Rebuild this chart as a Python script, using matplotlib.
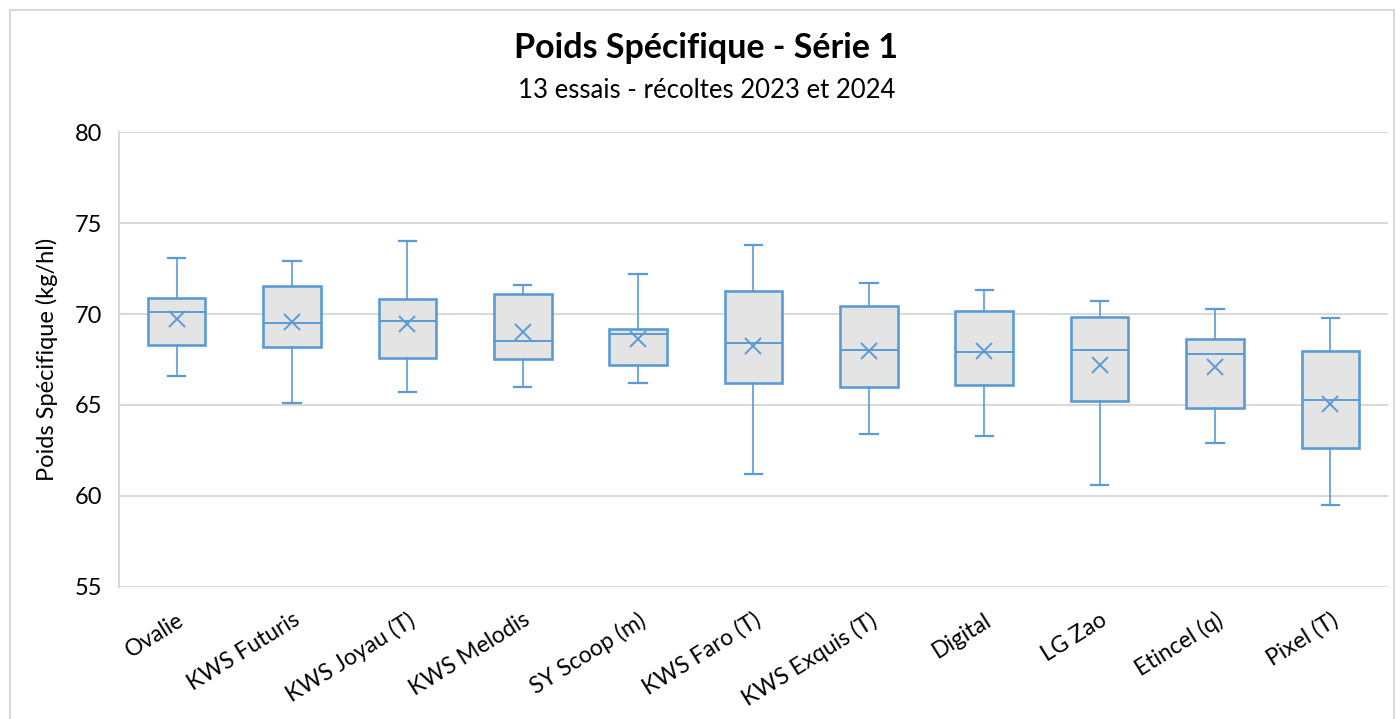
import matplotlib
matplotlib.use("Agg")
import matplotlib.pyplot as plt
import matplotlib.patches as patches

# Data (kg/hl)
varieties = ["Ovalie", "KWS Futuris", "KWS Joyau (T)", "KWS Melodis", "SY Scoop (m)",
             "KWS Faro (T)", "KWS Exquis (T)", "Digital", "LG Zao", "Etincel (q)", "Pixel (T)"]
whisker_low = [66.6, 65.1, 65.7, 66.0, 66.2, 61.2, 63.4, 63.3, 60.6, 62.9, 59.5]
q1 = [68.3, 68.2, 67.6, 67.5, 67.2, 66.2, 66.0, 66.1, 65.2, 64.85, 62.65]
median = [70.1, 69.5, 69.6, 68.5, 68.9, 68.4, 68.0, 67.9, 68.0, 67.8, 65.3]
q3 = [70.9, 71.55, 70.85, 71.1, 69.2, 71.25, 70.45, 70.15, 69.85, 68.65, 67.95]
whisker_high = [73.1, 72.9, 74.0, 71.6, 72.2, 73.8, 71.7, 71.3, 70.7, 70.3, 69.8]
means = [69.7, 69.55, 69.45, 69.0, 68.6, 68.25, 67.95, 67.95, 67.2, 67.1, 65.05]

BLUE = "#5B9BD5"
FILL = "#E4E4E4"
GRID = "#D9D9D9"

plt.rcParams["font.family"] = ["Lato", "DejaVu Sans"]

fig = plt.figure(figsize=(13.96, 7.19), dpi=100)
ax = fig.add_axes([0.0852, 0.1836, 0.9091, 0.6328])

stats = []
for i, name in enumerate(varieties):
    stats.append(dict(label=name, whislo=whisker_low[i], q1=q1[i], med=median[i],
                      q3=q3[i], whishi=whisker_high[i], mean=means[i]))

ax.bxp(stats, positions=range(len(varieties)), widths=0.5, patch_artist=True,
       showmeans=True, showfliers=False,
       boxprops=dict(facecolor=FILL, edgecolor=BLUE, linewidth=1.9),
       medianprops=dict(color=BLUE, linewidth=1.4),
       whiskerprops=dict(color=BLUE, linewidth=1.2),
       capprops=dict(color=BLUE, linewidth=1.6),
       capwidths=0.15,
       meanprops=dict(marker="x", markeredgecolor=BLUE, markersize=12, markeredgewidth=1.4),
       zorder=3)

ax.set_xlim(-0.5, len(varieties) - 0.5)
ax.set_ylim(55, 80)
ax.set_yticks([55, 60, 65, 70, 75, 80])
ax.yaxis.grid(True, color=GRID, linewidth=1.5, zorder=0)
ax.set_axisbelow(True)
for s in ["top", "right", "bottom"]:
    ax.spines[s].set_visible(False)
ax.spines["left"].set_color(GRID)
ax.spines["left"].set_linewidth(1.5)
ax.tick_params(axis="y", length=0, labelsize=17, pad=12)
ax.set_xticks(range(len(varieties)))
ax.set_xticklabels(varieties, rotation=32, ha="right", rotation_mode="anchor", fontsize=16.5)
ax.tick_params(axis="x", length=0, pad=16)
ax.set_ylabel("Poids Spécifique (kg/hl)", fontsize=17, labelpad=12)

fig.text(0.506, 0.933, "Poids Spécifique - Série 1", ha="center", va="center",
         fontsize=24.5, fontweight="bold")
fig.text(0.506, 0.874, "13 essais - récoltes 2023 et 2024", ha="center", va="center",
         fontsize=18.5)

# light outer chart border
border = patches.Rectangle((10 / 1396, -0.02), 1384 / 1396, 1 - 10 / 719 + 0.02,
                           transform=fig.transFigure, fill=False,
                           edgecolor=GRID, linewidth=1.5)
fig.patches.append(border)

fig.savefig("out.png", dpi=100)
